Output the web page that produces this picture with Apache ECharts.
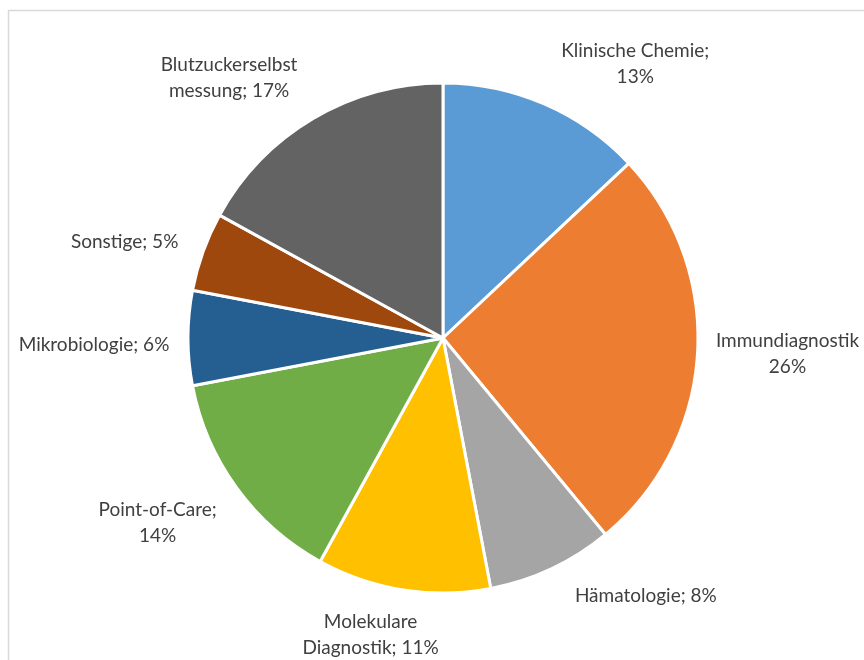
<!DOCTYPE html>
<html><head><meta charset="utf-8">
<script src="https://cdn.jsdelivr.net/npm/echarts@6/dist/echarts.min.js"></script>
<style>html,body{margin:0;padding:0;background:#fff}#c{width:864px;height:660px}</style>
</head><body><div id="c"></div>
<script>
const categories = ['Klinische Chemie','Immundiagnostik','Hämatologie','Molekulare Diagnostik','Point-of-Care','Mikrobiologie','Sonstige','Blutzuckerselbstmessung'];
const shares = [13, 26, 8, 11, 14, 6, 5, 17];
const labelTexts = ['Klinische Chemie;\n13%','Immundiagnostik\n26%','Hämatologie; 8%','Molekulare\nDiagnostik; 11%','Point-of-Care;\n14%','Mikrobiologie; 6%','Sonstige; 5%','Blutzuckerselbst\nmessung; 17%'];
const colors = ['#5B9BD5','#ED7D31','#A5A5A5','#FFC000','#70AD47','#255E91','#9E480E','#636363'];
// label nudges (style, relative to ECharts' outside label anchor)
const labelNudge = [[82,-31],[75,-1],[85,18],[-26,35],[-66,29],[-79,7],[-64,-6],[-74,-32]];

const chart = echarts.init(document.getElementById('c'), null, {renderer:'canvas'});
chart.setOption({
  animation:false,
  graphic:[{type:'rect',shape:{x:8.5,y:10.5,width:1000,height:1000},style:{fill:null,stroke:'#D9D9D9',lineWidth:1.5},silent:true}],
  series:[{
    type:'pie',
    center:[443,338],
    radius:[0,255],
    startAngle:90,
    clockwise:true,
    avoidLabelOverlap:false,
    data: categories.map((c,i)=>({name:c,value:shares[i],itemStyle:{color:colors[i]}})),
    itemStyle:{borderColor:'#fff',borderWidth:3},
    label:{show:true,position:'outside',formatter:p=>labelTexts[p.dataIndex],color:'#404040',fontFamily:'Lato, "Noto Sans", sans-serif',fontSize:19,lineHeight:26},
    labelLine:{show:false,length:10,length2:0},
    labelLayout:p=>({align:'center',verticalAlign:'middle',dx:labelNudge[p.dataIndex][0],dy:labelNudge[p.dataIndex][1]}),
    emphasis:{disabled:true}
  }]
});
</script></body></html>
